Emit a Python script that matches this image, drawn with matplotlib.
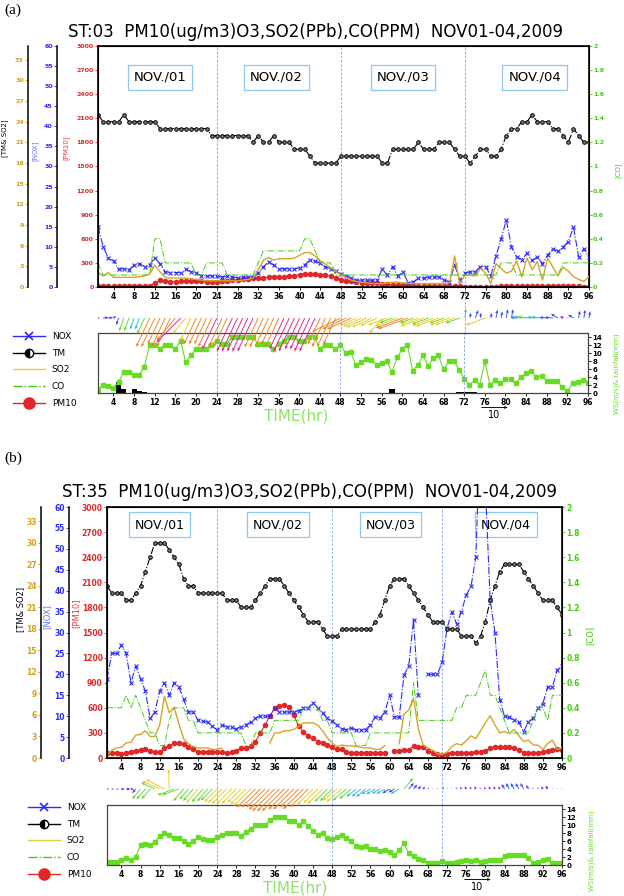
import numpy as np
import matplotlib
matplotlib.use("Agg")
import matplotlib.pyplot as plt
from matplotlib.colors import ListedColormap, BoundaryNorm
from matplotlib.lines import Line2D
from matplotlib.ticker import FuncFormatter

W, H = 624, 896
nan = np.nan

hours = np.arange(1, 97)
x_ticks = np.arange(4, 97, 4)
day_labels = ["NOV./01", "NOV./02", "NOV./03", "NOV./04"]
legend_labels = ["NOX", "TM", "SO2", "CO", "PM10"]

# ---------------- panel (a): ST:03 ----------------
title_a = "ST:03  PM10(ug/m3)O3,SO2(PPb),CO(PPM)  NOV01-04,2009"
tm_a = [25, 24, 24, 24, 24, 25, 24, 24, 24, 24, 24, 24,
        23, 23, 23, 23, 23, 23, 23, 23, 23, 23, 22, 22,
        22, 22, 22, 22, 22, 22, 21, 22, 21, 21, 22, 21,
        21, 21, 20, 20, 20, 19, 18, 18, 18, 18, 18, 19,
        19, 19, 19, 19, 19, 19, 19, 18, 18, 20, 20, 20,
        20, 20, 21, 20, 20, 20, 21, 21, 21, 20, 19, 19,
        18, 19, 20, 20, 19, 19, 20, 22, 23, 23, 24, 24,
        25, 24, 24, 24, 23, 23, 22, 21, 23, 22, 21, 21]
nox_a = [15, 10, 7.2, 6.5, 4.4, 4.6, 4.3, 5.5, 5.8, 5.1, 5.5, 7.2,
         5.8, 3.8, 3.6, 3.6, 3.6, 4.4, 3.8, 3.5, 2.8, 2.7, 2.8, 2.7,
         2.5, 2.7, 2.5, 2.3, 2.5, 2.4, 2.6, 3.5, 5.0, 6.3, 5.4, 4.6,
         4.5, 4.6, 4.5, 4.8, 5.5, 6.7, 6.5, 5.9, 5.0, 4.6, 4.0, 3.2,
         2.8, 2.2, 1.7, 1.7, 1.7, 1.7, 1.8, 4.4, 3.0, 5.1, 2.7, 3.7,
         1.1, 1.3, 2.2, 2.2, 2.5, 2.5, 2.5, 1.7, 1.3, 5.5, 1.7, 3.4,
         3.8, 3.8, 5.1, 5.1, 2.7, 7.7, 11.9, 16.7, 10.0, 7.5, 6.8, 8.4,
         6.6, 7.5, 5.8, 8.0, 9.5, 8.9, 10.0, 11.3, 14.9, 7.5, 9.5, 7.5]
so2_a = [2.1, 1.6, 2.1, 1.4, 1.4, 1.4, 1.4, 1.4, 1.5, 1.6, 1.9, 3.2,
         2.2, 1.4, 1.3, 1.3, 1.3, 1.3, 1.2, 1.1, 1.0, 0.9, 0.9, 0.9,
         0.9, 0.9, 0.9, 0.9, 1.0, 1.1, 1.3, 2.5, 3.9, 4.3, 3.9, 4.1,
         4.1, 4.1, 4.2, 4.6, 5.0, 5.0, 4.5, 3.8, 3.3, 2.8, 2.3, 1.8,
         1.4, 1.0, 0.8, 0.7, 0.6, 0.5, 0.5, 0.5, 0.6, 0.7, 0.7, 0.6,
         0.5, 0.5, 0.5, 0.5, 0.5, 0.5, 0.5, 0.5, 0.6, 4.5, 0.5, 1.7,
         1.7, 1.6, 2.7, 2.0, 0.5, 3.4, 2.7, 2.0, 2.3, 3.8, 1.5, 4.2,
         2.5, 3.7, 1.0, 4.2, 2.9, 1.6, 2.9, 2.3, 1.5, 1.1, 0.8, 1.5]
co_a = [0.2, 0.1, 0.1, 0.1, 0.1, 0.1, 0.1, 0.1, 0.1, 0.1, 0.1, 0.4,
        0.4, 0.2, 0.2, 0.2, 0.2, 0.2, 0.2, 0.1, 0.1, 0.2, 0.2, 0.2,
        0.2, 0.1, 0.1, 0.1, 0.1, 0.1, 0.1, 0.2, 0.3, 0.3, 0.3, 0.3,
        0.3, 0.3, 0.3, 0.3, 0.4, 0.4, 0.3, 0.2, 0.2, 0.2, 0.1, 0.1,
        0.1, 0.1, 0.1, 0.1, 0.1, 0.1, 0.1, 0.1, 0.1, 0.1, 0.1, 0.1,
        0.1, 0.1, 0.1, 0.1, 0.1, 0.1, 0.1, 0.1, 0.1, 0.1, 0.1, 0.1,
        0.1, 0.1, 0.1, 0.1, 0.1, 0.1, 0.2, 0.2, 0.2, 0.1, 0.1, 0.1,
        0.1, 0.1, 0.1, 0.1, 0.1, 0.1, 0.2, 0.2, 0.2, 0.2, 0.2, 0.2]
pm10_a = [16, 12, 10, 8, 8, 10, 12, 14, 16, 16, 18, 50,
          85, 70, 65, 68, 70, 72, 75, 72, 70, 65, 60, 62,
          70, 80, 85, 92, 100, 105, 110, 115, 118, 120, 122, 125,
          128, 132, 140, 155, 165, 168, 162, 155, 145, 135, 115, 92,
          80, 70, 62, 55, 50, 48, 45, 40, 32, 28, 25, 25,
          22, 18, 15, 14, 12, 12, 11, 10, 10, 9, 8, 6,
          6, 5, 5, 5, 5, 6, 8, 10, 12, 14, 16, 18,
          18, 18, 16, 15, 14, 13, 12, 10, 10, 8, 6, 5]
ws_a = [0.8, 2.1, 1.8, 1.3, 2.8, 5.3, 5.3, 4.6, 4.6, 6.6, 12.1, 12.1,
        11.0, 12.1, 12.1, 11.0, 13.1, 7.7, 9.4, 11.0, 11.0, 11.0, 12.1, 13.1,
        12.3, 12.3, 14.0, 14.0, 14.0, 14.0, 14.0, 12.3, 12.3, 12.3, 11.0, 12.3,
        13.1, 14.0, 14.0, 13.1, 13.1, 14.0, 14.0, 11.0, 12.1, 12.1, 11.0, 12.1,
        10.0, 10.2, 7.0, 7.7, 8.5, 8.3, 7.0, 7.5, 7.9, 5.3, 8.9, 11.0,
        12.1, 5.6, 7.0, 9.4, 6.8, 8.7, 9.4, 5.9, 7.9, 7.9, 5.8, 3.6,
        2.0, 3.2, 2.0, 7.9, 2.0, 3.2, 2.5, 3.4, 3.4, 2.4, 4.1, 4.9,
        5.6, 3.9, 4.3, 3.1, 3.1, 3.1, 1.4, 0.5, 2.4, 2.8, 3.2, 2.6]
rain_a = [0, 0, 0, 0, 2.8, 0.9, 0, 0.9, 0.4, 0.15, 0, 0.1] + [0] * 44 + \
         [0, 0.9, 0, 0, 0, 0, 0, 0, 0, 0, 0, 0, 0, 0, 0.2, 0.2, 0.2, 0.2,
          0, 0, 0.1] + [0] * 19
wd_a = [265, 265, 265, 235, 20, 20, 20, 20, 20, 25, 25, 25,
        25, 25, 25, 40, 45, 40, 25, 25, 25, 25, 25, 25,
        25, 25, 25, 25, 25, 25, 25, 25, 25, 25, 25, 25,
        25, 25, 25, 25, 25, 25, 25, 25, 25, 25, 25, 65,
        65, 65, 65, 65, 65, 65, 65, 40, 70, 70, 70, 70,
        70, 70, 70, 70, 70, 70, 70, 70, 70, 70, 70, 185,
        185, 200, 185, 70, 190, 190, 190, 190, 190, 95, 95, 95,
        95, 95, 95, 95, 95, 120, 120, 120, 120, 190, 190, 190]

# ---------------- panel (b): ST:35 ----------------
title_b = "ST:35  PM10(ug/m3)O3,SO2(PPb),CO(PPM)  NOV01-04,2009"
tm_b = [24, 23, 23, 23, 22, 22, 23, 24, 26, 28, 30, 30,
        30, 29, 28, 27, 25, 24, 24, 23, 23, 23, 23, 23,
        23, 22, 22, 22, 21, 21, 21, 22, 23, 24, 25, 25,
        25, 24, 23, 22, 21, 20, 19, 19, 19, 18, 17, 17,
        17, 18, 18, 18, 18, 18, 18, 18, 19, 20, 22, 24,
        25, 25, 25, 24, 23, 22, 21, 20, 19, 19, 19, 18,
        18, 18, 17, 17, 17, 16, 17, 19, 22, 24, 26, 27,
        27, 27, 27, 26, 25, 24, 23, 22, 22, 22, 21, 20]
nox_b = [19, 25, 25, 27, 25, 18, 22, 19, 16, 9.5, 11, 16,
         18, 15, 18, 17, 14, 11, 11, 9.1, 8.8, 8.6, 7.6, 6.7,
         7.9, 7.5, 7.3, 7.0, 7.5, 7.9, 8.6, 9.5, 10, 10, 10, 12,
         11, 11, 11, 11, 11.3, 12, 12, 13.2, 12, 10.7, 9.5, 8.8,
         7.9, 7.0, 6.8, 7.2, 6.7, 6.7, 6.8, 7.9, 9.9, 9.5, 11, 15,
         9.9, 9.7, 19.8, 22, 33, 15, nan, 20, 20, 20, 23, 31,
         35, 32, 35, 39, 41, 48, 80, 65, 37.7, 30, 13.9, 10,
         9.7, 9.1, 8.5, 6.3, 8.7, 9.5, 12, 13, 17, 17, 21, 22]
so2_b = [0.4, 1.1, 1.4, 1.5, 2.1, 2.2, 3.2, 3.3, 3.8, 3.0, 3.0, 4.6,
         8.6, 6.3, 7.1, 4.8, 2.7, 2.0, 1.6, 1.4, 1.4, 1.4, 1.2, 1.2,
         1.4, nan, nan, nan, nan, nan, nan, nan, nan, nan, 2.1, 3.5,
         3.5, 3.8, 3.8, 4.0, 4.4, 4.9, 4.9, 4.9, 4.6, 3.8, 2.8, 2.1,
         1.6, 1.8, 1.7, 1.7, 1.6, 1.5, 1.4, 1.4, 1.2, 1.2, 1.7, nan,
         nan, 2.0, 6.1, 6.7, 8.3, 4.1, 1.8, 1.4, 1.1, 0.6, 0.5, 0.8,
         1.6, 2.0, 1.8, 2.4, 3.1, 2.7, 3.8, 4.9, 5.9, 4.6, 3.5, 3.7,
         3.4, 4.0, 3.1, 2.3, 2.5, 1.8, 1.8, 1.2, 2.0, 2.5, 1.2, 1.4]
co_b = [0.4, 0.4, 0.4, 0.4, 0.5, 0.4, 0.5, 0.4, 0.3, 0.2, 0.2, 0.1,
        0.1, 0.3, 0.4, 0.4, 0.4, 0.3, 0.3, 0.2, 0.2, 0.2, 0.2, 0.2,
        0.2, 0.2, 0.2, 0.2, 0.2, 0.1, 0.1, 0.2, 0.2, 0.2, 0.2, 0.3,
        0.3, 0.3, 0.3, 0.3, 0.3, 0.4, 0.4, 0.4, 0.4, 0.3, 0.3, 0.2,
        0.2, 0.2, 0.2, 0.2, 0.1, 0.1, 0.1, 0.2, 0.2, 0.2, 0.2, 0.2,
        0.2, 0.2, 0.2, 0.2, 0.6, 0.3, 0.3, 0.3, 0.3, 0.3, 0.3, 0.3,
        0.3, 0.4, 0.4, 0.5, 0.5, 0.5, 0.6, 0.7, 0.5, 0.5, 0.4, 0.3,
        0.2, 0.2, 0.2, 0.2, 0.2, 0.3, 0.4, 0.4, 0.3, 0.5, 0.5, 0.5]
pm10_b = [56, 56, 56, 48, 64, 76, 88, 96, 104, 88, 72, 72,
          115, 143, 175, 175, 167, 135, 104, 72, 72, 72, 72, 72,
          72, 64, 72, 88, 115, 115, 143, 195, 300, 394, 501, 593,
          621, 633, 605, 513, 382, 315, 263, 235, 195, 183, 155, 127,
          104, 104, 76, 56, 56, 56, 56, 56, 56, 56, 64, nan,
          88, 88, 96, 96, 143, 135, 127, 88, 64, 48, 36, 48,
          64, 56, 56, 56, 56, 68, 76, 88, 115, 127, 135, 135,
          135, 115, 96, 64, 56, 56, 56, 76, 88, 96, 104, 96]
ws_b = [0.8, 0.8, 0.8, 1.3, 1.7, 1.2, 2.1, 5.0, 5.2, 5.0, 5.8, 7.3,
        7.9, 7.5, 6.7, 6.7, 6.0, 5.2, 6.0, 7.0, 6.5, 6.2, 6.2, 7.0,
        7.5, 8.1, 8.1, 8.0, 7.3, 8.3, 9.0, 9.9, 9.9, 9.9, 11.2, 12.0,
        12.0, 12.0, 11.0, 11.0, 9.9, 10.9, 9.8, 8.4, 7.6, 8.0, 6.8, 6.5,
        7.0, 7.6, 6.8, 5.9, 4.7, 4.5, 4.7, 4.0, 4.0, 3.5, 3.7, 3.2,
        2.6, 3.7, 5.4, 3.0, 2.2, 1.6, 1.2, 0.6, 0.4, 0.4, 1.0, 0.4,
        0.4, 0.7, 1.0, 1.2, 1.0, 1.2, 0.7, 1.0, 1.2, 1.2, 1.2, 2.2,
        2.6, 2.6, 2.6, 2.6, 1.8, 0.6, 0.7, 1.2, 1.6, 0.4, 0.4, 0.4]
rain_b = [0] * 96
wd_b = [270, 270, 270, 270, 270, 270, 40, 40, 40, 40, 115, 115,
        118, 178, 70, 70, 40, 40, 40, 40, 40, 40, 45, 45,
        45, 45, 45, 45, 45, 45, 45, 45, 45, 45, 45, 45,
        45, 45, 45, 45, 45, 45, 45, 45, 45, 45, 45, 45,
        50, 50, 50, 50, 50, 50, 50, 60, 60, 60, 60, 60,
        60, 60, 220, 220, 220, 220, 220, 220, 220, 220, 220, 220,
        150, 150, 150, 150, 150, 150, 150, 150, 150, 150, 150, 150,
        150, 150, 150, 150, 150, 150, 150, 150, 150, 150, 150, 150]

# colours
C_NOX = "#2b2bff"
C_SO2 = "#d8a428"
C_CO = "#44cc11"
C_PM = "#e02828"
C_GOLD = "#d4a017"
C_WS = "#66dd22"
C_DASH = "#7f9fe0"
C_BOX = "#8ec8f0"
C_TIME = "#8ee46a"

# wind arrows coloured by speed
arrow_cmap = ListedColormap(["#8030e0", "#3a4cf0", "#30b8e0", "#60d830",
                             "#e6cc20", "#f08020", "#e0208a"])
arrow_norm = BoundaryNorm([0, 2, 3.5, 5, 7, 9.5, 12.5, 30], arrow_cmap.N)


def rect(l, t, r, b):
    return [l / W, 1 - b / H, (r - l) / W, (b - t) / H]


def bold_ticks(ax, axis="both"):
    labels = []
    if axis in ("x", "both"):
        labels += ax.get_xticklabels()
    if axis in ("y", "both"):
        labels += ax.get_yticklabels()
    for lab in labels:
        lab.set_fontweight("bold")


def extra_left(ax, offset, top, step, color, fs):
    a = ax.twinx()
    a.set_ylim(0, top[0])
    a.set_yticks(np.arange(0, top[1] + 0.01, step))
    a.spines["left"].set_position(("axes", offset))
    a.spines["left"].set_visible(True)
    a.spines["left"].set_linewidth(1.1)
    for s in ("right", "top", "bottom"):
        a.spines[s].set_visible(False)
    a.yaxis.set_ticks_position("left")
    a.tick_params(axis="y", colors=color, labelsize=fs, length=2, width=0.6, pad=1)
    bold_ticks(a, "y")
    return a


def draw_panel(fig, lay, tm, nox, so2, co, pm10, ws, rain, wd, title):
    fs = lay["fs"]
    ax = fig.add_axes(rect(*lay["main"]))
    ax.set_xlim(1, 96)
    ax.set_ylim(0, 3000)
    ax.set_yticks(np.arange(0, 3001, 300))
    ax.set_xticks(x_ticks)
    ax.tick_params(axis="y", colors=C_PM, labelsize=fs, length=2, width=0.6, pad=1)
    ax.tick_params(axis="x", labelsize=5.5, length=2, width=0.6, pad=1.5)
    bold_ticks(ax)
    for s in ax.spines.values():
        s.set_linewidth(1.2)
    for h in lay["dash"]:
        ax.axvline(h, color=C_DASH, ls=(0, (3, 2)), lw=0.6)
    for h, lab in zip(lay["day_x"], day_labels):
        ax.text(h, lay["day_y"], lab, transform=ax.get_xaxis_transform(),
                ha="center", va="center", fontsize=lay["day_fs"],
                bbox=dict(boxstyle="square,pad=0.45", fc="white", ec=C_BOX, lw=0.9))

    ax_nox = extra_left(ax, lay["off_nox"], (60, 60), 5, C_NOX, fs)
    ax_tm = extra_left(ax, lay["off_tm"], (35, 33), 3, C_GOLD, fs)
    ax_co = ax.twinx()
    ax_co.set_ylim(0, 2)
    ax_co.set_yticks(np.arange(0, 2.01, 0.2))
    ax_co.yaxis.set_major_formatter(FuncFormatter(lambda v, _: f"{v:g}"))
    ax_co.tick_params(axis="y", colors=C_CO, labelsize=fs, length=2, width=0.6, pad=1)
    bold_ticks(ax_co, "y")

    ax.plot(hours, pm10, color=C_PM, lw=0.8, marker="o", ms=3, mec=C_PM)
    ax_co.plot(hours, co, color=C_CO, ls="-.", lw=0.7)
    ax_tm.plot(hours, so2, color=C_SO2, lw=1.0)
    ax_nox.plot(hours, nox, color=C_NOX, ls="-.", lw=0.8, marker="x", ms=2.6, mew=0.8)
    ax_tm.plot(hours, tm, color="black", ls="-.", lw=0.8, marker="o", ms=2.6,
               mfc="#808080", mec="black", mew=0.7)

    fig.text(lay["title_xy"][0] / W, 1 - lay["title_xy"][1] / H, title,
             ha="center", va="center", fontsize=12)
    fig.text(13 / W, 1 - lay["tag_y"] / H, lay["tag"], ha="center", va="center",
             fontsize=11, family="Liberation Serif")
    for txt, (x, y), col, rot in lay["axis_labels"]:
        fig.text(x / W, 1 - y / H, txt, rotation=rot, ha="center", va="center",
                 fontsize=lay["lab_fs"], color=col)

    # wind speed / rainfall panel
    axw = fig.add_axes(rect(*lay["wind"]))
    axw.set_xlim(1, 96)
    axw.set_ylim(0, 15)
    axw.bar(hours, rain, width=1.0, color="black")
    axw.plot(hours, ws, color=C_WS, lw=0.8, marker="s", ms=3, mec=C_WS)
    axw.yaxis.tick_right()
    axw.set_yticks(np.arange(0, 15, 2))
    axw.set_xticks(x_ticks)
    axw.tick_params(labelsize=5.5, length=2, width=0.6, pad=1.5)
    axw.tick_params(axis="y", labelsize=5, pad=1)
    bold_ticks(axw)
    for s in axw.spines.values():
        s.set_linewidth(0.9)
        s.set_color("#444444")
    for h in lay["dash"]:
        axw.axvline(h, color=C_DASH, ls=(0, (3, 2)), lw=0.6)

    # wind vectors between the two panels
    l, t, r, b = lay["main"]
    axa = fig.add_axes(rect(l, b, r, lay["wind"][1]))
    axa.set_xlim(1, 96)
    axa.set_ylim(0, 1)
    axa.axis("off")
    for h in lay["dash"]:
        axa.axvline(h, color=C_DASH, ls=(0, (3, 2)), lw=0.6)
    ws_arr = np.array(ws, dtype=float)
    th = np.deg2rad(np.array(wd, dtype=float))
    u = -ws_arr * np.sin(th)
    v = -ws_arr * np.cos(th)
    q = axa.quiver(hours, np.full(96, lay["arrow_base"]), u, v, ws_arr,
                   cmap=arrow_cmap, norm=arrow_norm, angles="uv",
                   scale_units="dots", scale=0.38, units="dots", width=0.9,
                   headwidth=3.5, headlength=4, headaxislength=3.6, pivot="tail")
    q.set_clip_on(False)
    kx, ky = lay["key_xy"]
    axa.quiverkey(q, kx / W, 1 - ky / H, 10, "10", labelpos="S",
                  coordinates="figure", color="black", labelsep=0.03,
                  fontproperties={"size": 7})

    fig.text(lay["time_xy"][0] / W, 1 - lay["time_xy"][1] / H, "TIME(hr)",
             color=C_TIME, fontsize=11, ha="center", va="center")
    fig.text(lay["wslab_xy"][0] / W, 1 - lay["wslab_xy"][1] / H,
             "WS(m/s)& rainfall(mm)", color=C_WS, fontsize=5, rotation=90,
             ha="center", va="center")

    handles = [
        Line2D([], [], color=C_NOX, lw=1, marker="x", ms=6, mew=1.2),
        Line2D([], [], color="black", lw=1, marker="o", ms=6, fillstyle="left",
               mfc="black", mfcalt="white", mec="black"),
        Line2D([], [], color="#e6cc40", lw=1),
        Line2D([], [], color=C_CO, lw=1, ls="-."),
        Line2D([], [], color=C_PM, lw=1, marker="o", ms=8),
    ]
    lx, ly = lay["legend_xy"]
    fig.legend(handles, legend_labels, loc="upper left",
               bbox_to_anchor=(lx / W, 1 - ly / H), frameon=False, fontsize=6.5,
               handlelength=3.5, handletextpad=0.8, labelspacing=0.85,
               borderpad=0, borderaxespad=0)


layout_a = dict(
    main=(98, 46, 589, 287), wind=(98, 333, 588, 393), fs=4.5,
    off_nox=-0.0835, off_tm=-0.1426, dash=(24, 48, 72),
    day_x=(13, 35.5, 60, 85.5), day_y=0.871, day_fs=9.5,
    title_xy=(316, 32), tag="(a)", tag_y=10, lab_fs=5,
    axis_labels=[("[TM& SO2]", (5, 138), "black", 90),
                 ("[NOX]", (35, 151), "#6677ff", 90),
                 ("[PM10]", (66, 148), "#e04040", 90),
                 ("[CO]", (618, 170), C_CO, 90)],
    arrow_base=(333 - 318) / (333 - 287), key_xy=(494, 407),
    time_xy=(296, 416), wslab_xy=(617, 374), legend_xy=(13, 332),
)
layout_b = dict(
    main=(107, 507, 562, 758), wind=(107, 805, 562, 865), fs=5.5,
    off_nox=-0.0835, off_tm=-0.145, dash=(24, 48, 71),
    day_x=(12, 36.7, 60.2, 84.3), day_y=0.93, day_fs=9,
    title_xy=(310, 492), tag="(b)", tag_y=458, lab_fs=6,
    axis_labels=[("[TM& SO2]", (21, 609), "black", 90),
                 ("[NOX]", (47, 617), "#6677ff", 90),
                 ("[PM10]", (76, 613), "#e04040", 90),
                 ("[CO]", (590, 635), C_CO, 90)],
    arrow_base=(805 - 789) / (805 - 758), key_xy=(477, 879),
    time_xy=(295, 888), wslab_xy=(592, 851), legend_xy=(28, 803),
)


def main() -> None:
    fig = plt.figure(figsize=(W / 100, H / 100), dpi=100)
    draw_panel(fig, layout_a, tm_a, nox_a, so2_a, co_a, pm10_a, ws_a, rain_a,
               wd_a, title_a)
    draw_panel(fig, layout_b, tm_b, nox_b, so2_b, co_b, pm10_b, ws_b, rain_b,
               wd_b, title_b)
    fig.savefig("out.png", dpi=100)


if __name__ == "__main__":
    main()
